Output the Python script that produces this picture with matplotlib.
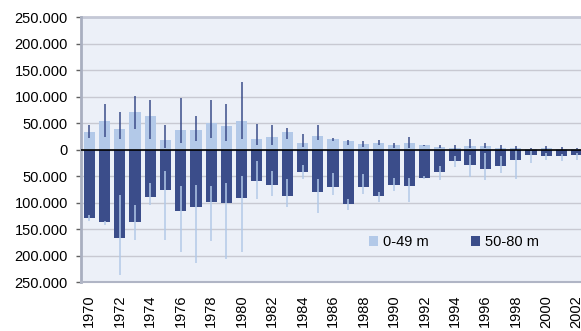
import matplotlib
matplotlib.use("Agg")
import matplotlib.pyplot as plt
import numpy as np
from matplotlib.patches import Patch
from matplotlib.ticker import FuncFormatter

plt.rcParams['font.family'] = ['Liberation Sans', 'DejaVu Sans']

years = list(range(1970, 2003))
shallow = [33300, 55000, 40000, 72000, 63000, 18600, 38000, 38000, 50600, 45500,
           55000, 20500, 23700, 33300, 13500, 26300, 20500, 16000, 11000, 13500,
           9000, 13500, 9000, 5800, 4000, 6400, 6400, 3200, 3200, 2000,
           4000, 2000, 2000]
shallow_hi = [46000, 86000, 71000, 102000, 93600, 46000, 98000, 63000, 93600, 86000,
              128000, 49000, 46800, 42000, 29500, 46800, 23000, 18000, 17000, 18000,
              13500, 25000, 10000, 10000, 10000, 20000, 12000, 10000, 8000, 4000,
              8000, 6000, 4000]
shallow_lo = [22400, 25000, 20000, 39000, 20000, 2500, 12000, 17000, 22400, 17000,
              20000, 9000, 9000, 20000, 5800, 18600, 17000, 10000, 5800, 10000,
              2500, 2500, 7000, 2500, 0, 2500, 2500, 0, 0, 600,
              0, 0, 600]
deep = [128000, 137000, 167000, 137000, 89000, 75000, 116000, 108000, 97600, 99500,
        90000, 58000, 65500, 87000, 41500, 80000, 70500, 102000, 70500, 87000,
        65500, 68000, 53500, 41500, 21500, 29000, 36500, 31500, 19000, 9500,
        12500, 12500, 9500]
deep_lo = [123000, 134000, 86000, 105000, 62000, 40000, 69000, 67000, 69000, 63000,
           50000, 21000, 40000, 55000, 28000, 55000, 43000, 93000, 45000, 80000,
           53000, 53000, 50000, 30000, 12500, 9500, 6000, 12500, 1000, 3000,
           6000, 7500, 6000]
deep_hi = [134000, 142000, 236000, 171000, 105000, 171000, 192000, 214000, 173000, 206000,
           192000, 93000, 88000, 108000, 55000, 120000, 86000, 113000, 84000, 98000,
           77000, 98000, 55000, 57000, 33000, 52000, 57000, 43000, 55000, 25000,
           19000, 21000, 20000]
series_names = ['0-49 m', '50-80 m']

light = '#B3C9E8'
dark = '#3B4D8A'

fig = plt.figure(figsize=(5.81, 3.31), dpi=100)
ax = fig.add_axes([81/581, 1-282.3/331, 1-81/581, (282.3-17.3)/331])
ax.set_facecolor('#ECF0F8')

x = np.arange(len(years))
w = 0.74
s = np.array(shallow); d = np.array(deep)
ax.bar(x, s, width=w, color=light, zorder=2)
ax.bar(x, -d, width=w, color=dark, zorder=2)

ax.errorbar(x, s, yerr=[s - np.array(shallow_lo), np.array(shallow_hi) - s],
            fmt='none', ecolor=dark, elinewidth=1.1, capsize=0, zorder=4)
ax.errorbar(x, -d, yerr=[np.array(deep_hi) - d, d - np.array(deep_lo)],
            fmt='none', ecolor=light, elinewidth=1.1, capsize=0, zorder=4)

ax.axhline(0, color='black', lw=1.2, zorder=5)
ax.set_ylim(-250000, 250000)
ax.set_xlim(-0.545, 32.28)
ax.set_yticks(np.arange(-250000, 250001, 50000))
ax.yaxis.set_major_formatter(FuncFormatter(
    lambda v, p: '0' if v == 0 else f'{abs(int(v)):,}'.replace(',', '.')))
ax.grid(axis='y', color='#C8C9D2', lw=1, zorder=1)
ax.set_axisbelow(True)

ax.set_xticks(x[::2])
ax.set_xticklabels([str(y) for y in years[::2]], rotation=90)
ax.tick_params(axis='x', length=0, pad=9, labelsize=10.5, colors='black')
ax.tick_params(axis='y', length=3.5, width=1, color='#606060', pad=6, labelsize=10.5)

for side in ['top', 'right']:
    ax.spines[side].set_visible(False)
ax.spines['left'].set_color('#A9AFC0')
ax.spines['left'].set_linewidth(2)
ax.spines['bottom'].set_color('#B0B5C5')
ax.spines['bottom'].set_linewidth(1.5)
ax.axhline(250000, color='#C4C8D6', lw=2, zorder=1, clip_on=False)

handles = [Patch(facecolor=light), Patch(facecolor=dark)]
fig.legend(handles, series_names, loc='center left',
           bbox_to_anchor=(369/581, 1-242/331), bbox_transform=fig.transFigure,
           ncol=2, frameon=False, handlelength=0.65, handleheight=0.65,
           handletextpad=0.3, columnspacing=2.9, borderpad=0, borderaxespad=0,
           fontsize=10.5)

fig.savefig('out.png', dpi=100)
